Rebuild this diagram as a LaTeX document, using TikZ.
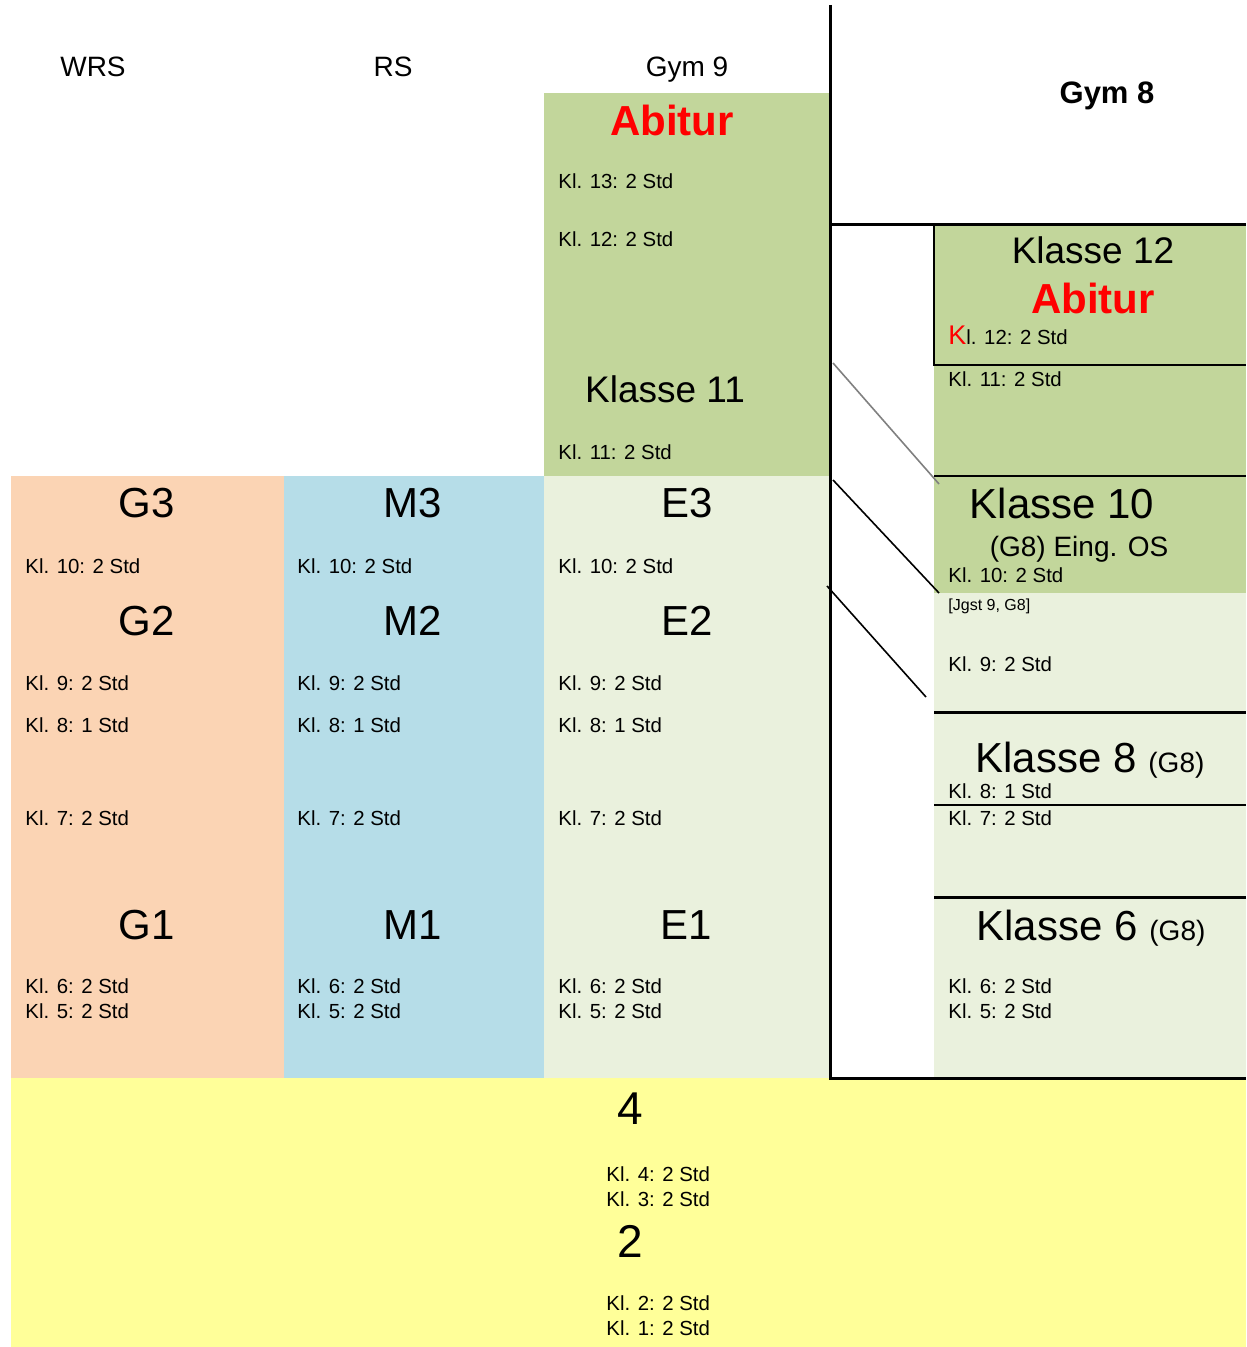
\documentclass[tikz,border=0pt]{standalone}
\usepackage{fontspec}
\setmainfont{Liberation Sans}
\definecolor{cOrange}{HTML}{FBD4B4}
\definecolor{cBlue}{HTML}{B6DDE8}
\definecolor{cGreen}{HTML}{C2D69B}
\definecolor{cLight}{HTML}{EAF1DD}
\definecolor{cYellow}{HTML}{FFFF99}
\definecolor{cRed}{HTML}{FF0000}
\newcommand{\fsz}[1]{\fontsize{#1}{#1}\selectfont}
\tikzset{
  small/.style={anchor=west,inner sep=0pt,font=\fsz{10.2}},
  tiny/.style={anchor=west,inner sep=0pt,font=\fsz{8}},
  head/.style={inner sep=0pt,font=\fsz{14}},
  big/.style={inner sep=0pt,font=\fsz{21}},
  mid/.style={inner sep=0pt,font=\fsz{18.5}},
  abi/.style={inner sep=0pt,font=\bfseries\fsz{21},text=cRed},
  thick line/.style={line width=1.5pt},
  thin line/.style={line width=1pt},
}
\begin{document}
\begin{tikzpicture}[x=0.5pt,y=-0.5pt]
\useasboundingbox (0,0) rectangle (1246,1347);
% fills
\fill[cOrange] (11,476) rectangle (284,1078);
\fill[cBlue] (284,476) rectangle (544,1078);
\fill[cLight] (544,476) rectangle (830,1078);
\fill[cGreen] (544,93) rectangle (830,476);
\fill[cGreen] (934,225) rectangle (1246,593);
\fill[cLight] (934,593) rectangle (1246,1078);
\fill[cYellow] (11,1078) rectangle (1246,1347);
% lines
\draw[thick line] (830,5) -- (830,1078) -- (1246,1078);
\draw[thick line] (830,225) -- (1246,225);
\draw[thin line] (934,225) -- (934,365) -- (1246,365);
\draw[line width=0.8pt] (934,476) -- (1246,476);
\draw[thick line] (934,712) -- (1246,712);
\draw[line width=0.8pt] (934,805) -- (1246,805);
\draw[thick line] (934,897) -- (1246,897);
% diagonal connectors
\coordinate (d1a) at (833,363); \coordinate (d1b) at (939,484);
\coordinate (d2a) at (833,480); \coordinate (d2b) at (939,593);
\coordinate (d3a) at (827,586); \coordinate (d3b) at (926,697);
\draw[gray,line width=0.8pt] (d1a) -- (d1b);
\draw[line width=0.8pt] (d2a) -- (d2b);
\draw[line width=0.8pt] (d3a) -- (d3b);
% headers
\node[head] (hWRS) at (93,67) {WRS};
\node[head] (hRS) at (393,67) {RS};
\node[head] (hG9) at (687,70) {Gym 9};
\node[inner sep=0pt,font=\bfseries\fsz{15.5}] (hG8) at (1107,96) {Gym 8};
% Gym 9 column
\node[abi] (abi9) at (672,120) {Abitur};
\node[small] (g9k13) at (558,181) {Kl. 13: 2 Std};
\node[small] (g9k12) at (558,239) {Kl. 12: 2 Std};
\node[mid] (k11) at (665,389) {Klasse 11};
\node[small] (g9k11) at (558,452) {Kl. 11: 2 Std};
% G column
\node[big] (G3) at (147,503) {G3};
\node[small] (gk10) at (25,566) {Kl. 10: 2 Std};
\node[big] (G2) at (147,621) {G2};
\node[small] (gk9) at (25,683) {Kl. 9: 2 Std};
\node[small] (gk8) at (25,725) {Kl. 8: 1 Std};
\node[small] (gk7) at (25,818) {Kl. 7: 2 Std};
\node[big] (G1) at (147,925) {G1};
\node[small] (gk6) at (25,986) {Kl. 6: 2 Std};
\node[small] (gk5) at (25,1011) {Kl. 5: 2 Std};
% M column
\node[big] (M3) at (413,503) {M3};
\node[small] (mk10) at (297,566) {Kl. 10: 2 Std};
\node[big] (M2) at (413,621) {M2};
\node[small] (mk9) at (297,683) {Kl. 9: 2 Std};
\node[small] (mk8) at (297,725) {Kl. 8: 1 Std};
\node[small] (mk7) at (297,818) {Kl. 7: 2 Std};
\node[big] (M1) at (413,925) {M1};
\node[small] (mk6) at (297,986) {Kl. 6: 2 Std};
\node[small] (mk5) at (297,1011) {Kl. 5: 2 Std};
% E column
\node[big] (E3) at (687,503) {E3};
\node[small] (ek10) at (558,566) {Kl. 10: 2 Std};
\node[big] (E2) at (687,621) {E2};
\node[small] (ek9) at (558,683) {Kl. 9: 2 Std};
\node[small] (ek8) at (558,725) {Kl. 8: 1 Std};
\node[small] (ek7) at (558,818) {Kl. 7: 2 Std};
\node[big] (E1) at (686,925) {E1};
\node[small] (ek6) at (558,986) {Kl. 6: 2 Std};
\node[small] (ek5) at (558,1011) {Kl. 5: 2 Std};
% Gym 8 column
\node[mid] (k12) at (1093,250) {Klasse 12};
\node[abi] (abi8) at (1093,298) {Abitur};
\node[small] (g8k12) at (948,335) {\textcolor{cRed}{\fsz{13.5}K}l. 12: 2 Std};
\node[small] (g8k11) at (948,379) {Kl. 11: 2 Std};
\node[big] (k10) at (1062,503) {Klasse 10};
\node[head] (eing) at (1079,549) {(G8) Eing. OS};
\node[small] (g8k10) at (948,575) {Kl. 10: 2 Std};
\node[tiny] (jgst) at (948,606) {[Jgst 9, G8]};
\node[small] (g8k9) at (948,664) {Kl. 9: 2 Std};
\node[big] (k8) at (1090,760) {Klasse 8 {\fsz{14}(G8)}};
\node[small] (g8k8) at (948,791) {Kl. 8: 1 Std};
\node[small] (g8k7) at (948,818) {Kl. 7: 2 Std};
\node[big] (k6) at (1091,928) {Klasse 6 {\fsz{14}(G8)}};
\node[small] (g8k6) at (948,986) {Kl. 6: 2 Std};
\node[small] (g8k5) at (948,1011) {Kl. 5: 2 Std};
% primary
\node[inner sep=0pt,font=\fsz{23}] (p4) at (630,1109) {4};
\node[small] (pk4) at (606,1174) {Kl. 4: 2 Std};
\node[small] (pk3) at (606,1199) {Kl. 3: 2 Std};
\node[inner sep=0pt,font=\fsz{23}] (p2) at (630,1241) {2};
\node[small] (pk2) at (606,1303) {Kl. 2: 2 Std};
\node[small] (pk1) at (606,1328) {Kl. 1: 2 Std};
\end{tikzpicture}
\end{document}
